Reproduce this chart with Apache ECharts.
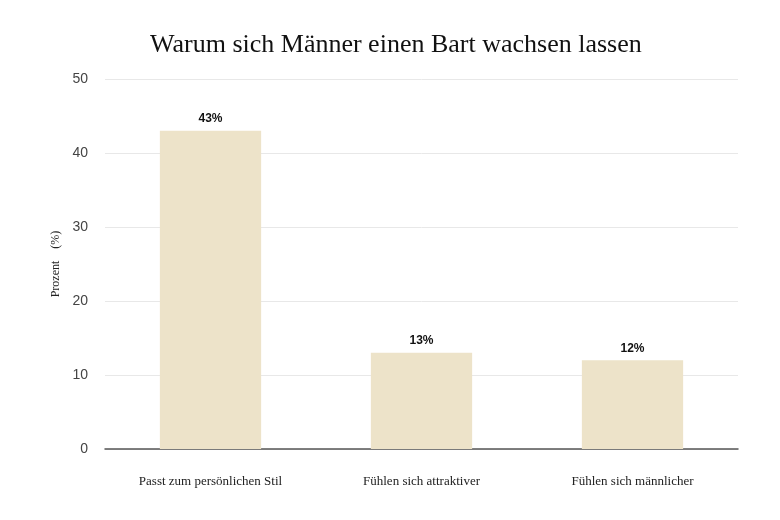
<!DOCTYPE html>
<html>
<head>
<meta charset="utf-8">
<style>
  html, body { margin: 0; padding: 0; background: #fff; }
  #chart { width: 780px; height: 520px; }
</style>
<script src="https://cdn.jsdelivr.net/npm/echarts@6/dist/echarts.min.js"></script>
</head>
<body>
<div id="chart"></div>
<script>
var categories = ["Passt zum persönlichen Stil", "Fühlen sich attraktiver", "Fühlen sich männlicher"];
var values = [43, 13, 12];
var yTicks = [0, 10, 20, 30, 40, 50];

var chart = echarts.init(document.getElementById("chart"));
var option = {
  backgroundColor: "#ffffff",
  title: {
    text: "Warum sich Männer einen Bart wachsen lassen",
    left: 145,
    top: 27,
    textStyle: {
      fontFamily: "Liberation Serif",
      fontWeight: "normal",
      fontSize: 26,
      color: "#111"
    }
  },
  grid: { left: 105, right: 42, top: 79, bottom: 71 },
  xAxis: {
    type: "category",
    data: categories,
    axisTick: { show: false },
    axisLine: { lineStyle: { color: "#555", width: 1.5 } },
    axisLabel: {
      margin: 26,
      fontFamily: "Liberation Serif",
      fontSize: 13,
      color: "#222"
    }
  },
  yAxis: {
    type: "value",
    min: yTicks[0],
    max: yTicks[yTicks.length - 1],
    interval: 10,
    name: "Prozent    (%)",
    nameLocation: "middle",
    nameGap: 43,
    nameTextStyle: {
      fontFamily: "Liberation Serif",
      fontSize: 12,
      color: "#222"
    },
    axisLine: { show: false },
    axisTick: { show: false },
    axisLabel: {
      margin: 17,
      fontFamily: "Liberation Sans",
      fontSize: 14,
      color: "#444"
    },
    splitLine: { lineStyle: { color: "#e8e8e8", width: 1 } }
  },
  series: [
    {
      type: "bar",
      data: values,
      barWidth: "48%",
      itemStyle: { color: "#ede3c9" },
      label: {
        show: true,
        position: "top",
        distance: 6,
        formatter: "{c}%",
        fontFamily: "Liberation Sans",
        fontWeight: "bold",
        fontSize: 12,
        color: "#111"
      }
    }
  ]
};
chart.setOption(option);
</script>
</body>
</html>
